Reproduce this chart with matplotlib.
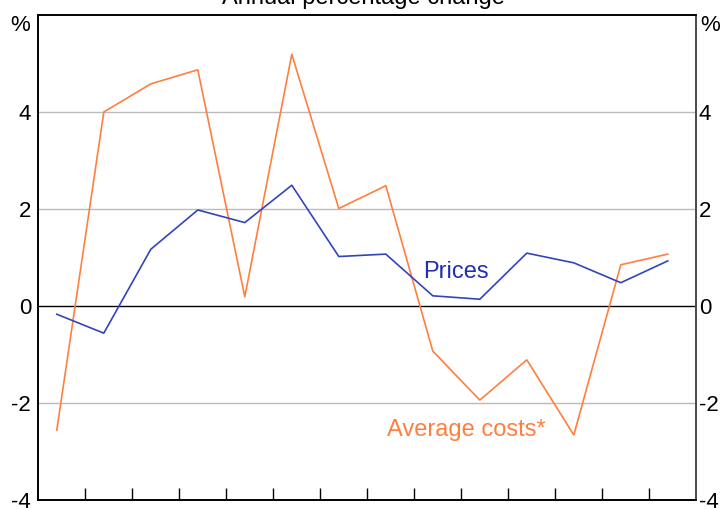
import matplotlib
matplotlib.use("Agg")
import matplotlib.pyplot as plt
import numpy as np

plt.rcParams['font.family'] = ['Liberation Sans', 'DejaVu Sans']

# Data (annual percentage change)
avg_costs = [-2.56, 4.0, 4.58, 4.87, 0.19, 5.19, 2.01, 2.48, -0.93, -1.94, -1.11, -2.66, 0.85, 1.07]
prices = [-0.17, -0.56, 1.17, 1.98, 1.72, 2.49, 1.02, 1.07, 0.21, 0.14, 1.09, 0.89, 0.48, 0.93]
x_pos = np.arange(len(prices)) + 0.4
x_ticks = list(range(1, 14))
y_ticks = [-4, -2, 0, 2, 4]
y_labels = ['-4', '-2', '0', '2', '4']

blue = '#3344BB'
orange = '#FF7F3F'

fig = plt.figure(figsize=(7.23, 5.09), dpi=100)
ax = fig.add_axes([38/723, 9/509, 658/723, 485/509])

for y in [-2, 2, 4]:
    ax.axhline(y, color='#BBBBBB', lw=1.0, zorder=1)
ax.axhline(0, color='black', lw=1.0, zorder=1)

ax.plot(x_pos, avg_costs, color=orange, lw=1.2, zorder=3)
ax.plot(x_pos, prices, color=blue, lw=1.2, zorder=3)

ax.set_xlim(0, 14)
ax.set_ylim(-4, 6)
ax.set_xticks(x_ticks)
ax.set_xticklabels([])
ax.tick_params(axis='x', direction='in', length=9, width=1, color='black')

ax.set_yticks(y_ticks)
ax.set_yticklabels(y_labels, fontsize=16)
ax.tick_params(axis='y', length=0, pad=5)

ax2 = ax.twinx()
ax2.set_ylim(-4, 6)
ax2.set_yticks(y_ticks)
ax2.set_yticklabels(y_labels, fontsize=16)
ax2.tick_params(axis='y', length=0, pad=2)

for a in (ax, ax2):
    for s in a.spines.values():
        s.set_linewidth(1.2)
        s.set_color('black')
ax2.spines['right'].set_color('#555555')

ax.text(-0.17, 6, '%', fontsize=16, ha='right', va='top', transform=ax.transData)
ax.text(14.1, 6, '%', fontsize=16, ha='left', va='top', transform=ax.transData)

ax.text(8.19, 0.70, 'Prices', color='#1F2FB0', fontsize=17, ha='left', va='center')
ax.text(7.43, -2.56, 'Average costs*', color=orange, fontsize=17, ha='left', va='center')

fig.text(0.502, 1 - 4/509, 'Annual percentage change', fontsize=17, ha='center', va='baseline')

fig.savefig('out.png', dpi=100)
